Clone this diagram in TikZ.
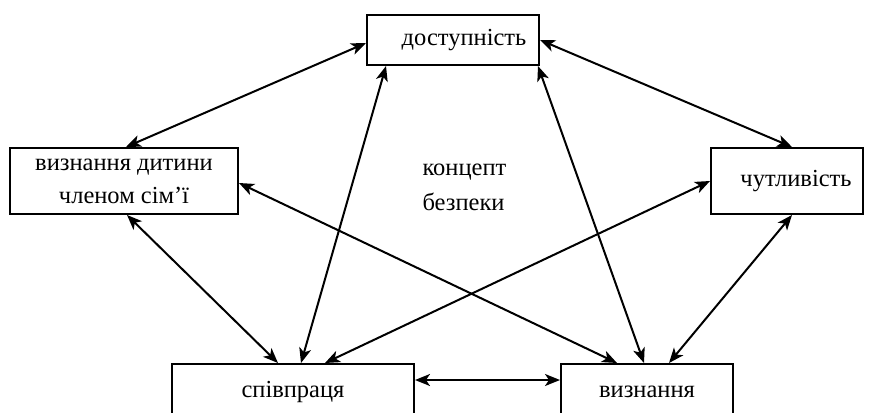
\documentclass[tikz,border=0pt]{standalone}
\usepackage{fontspec}
\setmainfont{Liberation Serif}
\usetikzlibrary{arrows.meta}
\tikzset{
  box/.style={draw, line width=2pt, inner sep=0pt, align=center,
    font=\fontsize{24.5}{33}\selectfont},
  link/.style={line width=2pt, {Stealth[length=15pt,width=12pt,inset=4pt]}-{Stealth[length=15pt,width=12pt,inset=4pt]}},
}
\begin{document}
\begin{tikzpicture}[x=1pt,y=-1pt]
\useasboundingbox (0,0) rectangle (869,412);
\node[box, minimum width=172pt, minimum height=50pt] (top) at (453,40) {\hspace*{22pt}доступність};
\node[box, minimum width=228pt, minimum height=66pt] (left) at (124,181) {визнання дитини\\членом сім’ї};
\node[box, minimum width=152pt, minimum height=66pt] (right) at (787,181) {\hspace*{18pt}чутливість};
\node[box, minimum width=242pt, minimum height=56pt] (bl) at (293,392) {співпраця};
\node[box, minimum width=172pt, minimum height=56pt] (br) at (647,392) {визнання};
\node[anchor=west, align=left, font=\fontsize{24.5}{35}\selectfont] (concept) at (419,187) {концепт\\безпеки};
\draw[link] ([yshift=-3pt]top.west) -- ([xshift=117pt]left.north west);
\draw[link] (top.east) -- ([xshift=82pt]right.north west);
\draw[link] ([xshift=20pt]top.south west) -- ([xshift=130pt]bl.north west);
\draw[link] ([xshift=172pt]top.south west) -- ([xshift=84pt]br.north west);
\draw[link] ([xshift=118pt]left.south west) -- ([xshift=107pt]bl.north west);
\draw[link] ([yshift=-2pt]left.east) -- ([xshift=57pt]br.north west);
\draw[link] (right.west) -- ([xshift=154pt]bl.north west);
\draw[link] ([xshift=82pt]right.south west) -- ([xshift=109pt]br.north west);
\draw[link] ([yshift=-17pt]bl.north east) -- ([yshift=-17pt]br.north west);
\end{tikzpicture}
\end{document}
